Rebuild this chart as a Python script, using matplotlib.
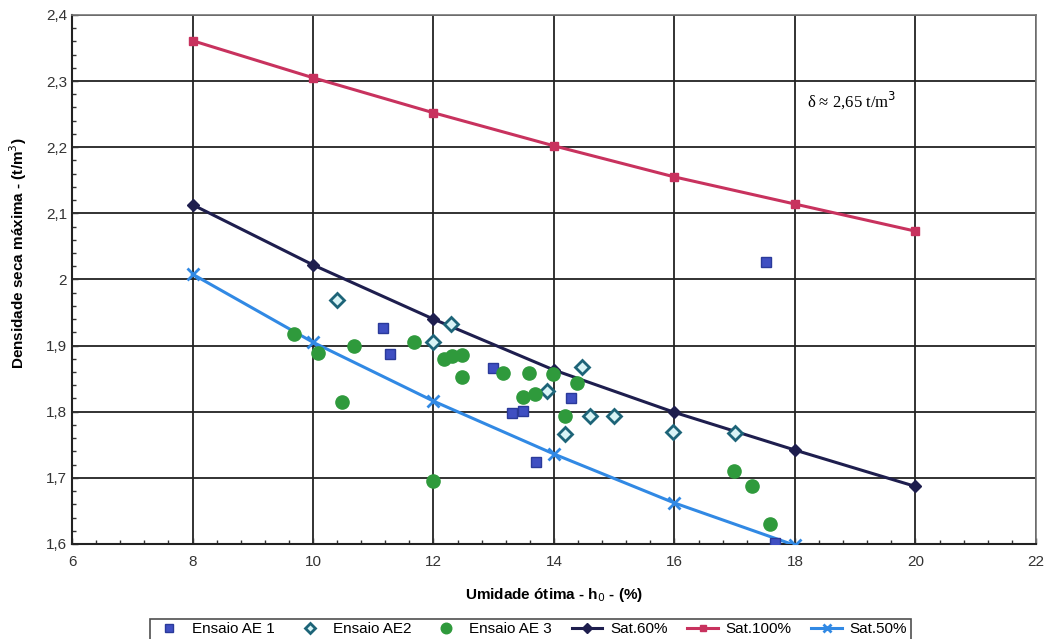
import matplotlib.pyplot as plt
from matplotlib.ticker import MultipleLocator, FuncFormatter

plt.rcParams['font.family'] = ['Liberation Sans', 'DejaVu Sans']

# curvas de saturação
sat_h = [8, 10, 12, 14, 16, 18, 20]
sat100 = [2.361, 2.305, 2.252, 2.202, 2.155, 2.114, 2.073]
sat60 = [2.113, 2.022, 1.940, 1.863, 1.799, 1.742, 1.687]
sat50 = [2.008, 1.905, 1.816, 1.736, 1.662, 1.598, 1.545]

# ensaios
ae1_h = [17.52, 11.17, 11.27, 12.98, 13.30, 13.48, 14.29, 13.70, 17.67]
ae1_d = [2.026, 1.926, 1.887, 1.866, 1.798, 1.801, 1.821, 1.724, 1.601]

ae2_h = [10.4, 12.29, 11.99, 14.47, 13.89, 14.59, 14.99, 14.19, 15.98, 17.0]
ae2_d = [1.969, 1.933, 1.905, 1.867, 1.831, 1.793, 1.793, 1.766, 1.769, 1.768]

ae3_h = [9.68, 10.08, 10.68, 10.48, 11.67, 12.17, 12.30, 12.48, 12.48, 13.16,
         13.58, 13.99, 14.39, 13.48, 13.68, 14.19, 11.99, 16.98, 17.28, 17.58]
ae3_d = [1.917, 1.889, 1.899, 1.815, 1.905, 1.880, 1.884, 1.886, 1.852, 1.858,
         1.858, 1.857, 1.843, 1.822, 1.827, 1.793, 1.695, 1.710, 1.687, 1.630]

fig = plt.figure(figsize=(10.5, 6.39), dpi=100)
ax = fig.add_axes([0.0686, 0.1487, 0.918, 0.828])

ax.plot(ae1_h, ae1_d, ls='none', marker='s', ms=6.5, color='#3f4fc2', mec='#2a3a9a',
        label='Ensaio AE 1', zorder=4)
ax.plot(ae2_h, ae2_d, ls='none', marker='D', ms=7, mfc='#d8f4f6', mec='#1d6478', mew=2,
        label='Ensaio AE2', zorder=4)
ax.plot(ae3_h, ae3_d, ls='none', marker='o', ms=9.5, color='#2f9a3c', label='Ensaio AE 3', zorder=4)
ax.plot(sat_h, sat60, color='#1e1e4e', lw=2.2, marker='D', ms=6, label='Sat.60%', zorder=3)
ax.plot(sat_h, sat100, color='#c8325e', lw=2.2, marker='s', ms=6, label='Sat.100%', zorder=3)
ax.plot(sat_h, sat50, color='#3189e4', lw=2.2, marker='x', ms=8, mew=2, label='Sat.50%', zorder=3)

ax.set_xlim(6, 22)
ax.set_ylim(1.6, 2.4)
ax.xaxis.set_major_locator(MultipleLocator(2))
ax.xaxis.set_minor_locator(MultipleLocator(0.4))
ax.yaxis.set_major_locator(MultipleLocator(0.1))
ax.yaxis.set_minor_locator(MultipleLocator(0.02))
ax.yaxis.set_major_formatter(FuncFormatter(lambda v, p: f'{v:.1f}'.rstrip('0').rstrip('.').replace('.', ',')))
ax.xaxis.set_major_formatter(FuncFormatter(lambda v, p: f'{v:.0f}'))
ax.tick_params(which='both', direction='in', length=4, width=1, labelsize=11, colors='#333333')
ax.tick_params(which='minor', length=3)
ax.tick_params(axis='x', pad=8)
ax.grid(True, which='major', color='#222222', lw=1.3)

for s in ['left', 'bottom']:
    ax.spines[s].set_color('#222222')
    ax.spines[s].set_linewidth(1.5)
for s in ['top', 'right']:
    ax.spines[s].set_color('#777777')
    ax.spines[s].set_linewidth(1.2)

ax.set_xlabel('Umidade ótima - h$_0$ - (%)', fontsize=11, fontweight='bold', labelpad=12)
ax.set_ylabel('Densidade seca máxima - (t/m$^3$)', fontsize=11, fontweight='bold')
ax.yaxis.label.set_va('center')
ax.yaxis.set_label_coords(-0.056, 0.55)

ax.text(18.2, 2.271, 'δ ≈ 2,65 t/m$^3$', fontsize=12, family='Liberation Serif', va='center')

leg = fig.legend(loc='center', bbox_to_anchor=(0.505, 0.015), ncol=6, frameon=True,
                 fontsize=11, handlelength=2.0, handletextpad=0.5, columnspacing=1.3,
                 borderpad=0.25, fancybox=False, edgecolor='#222222', markerscale=0.8)
leg.get_frame().set_linewidth(1.2)

fig.savefig('out.png', dpi=100, facecolor='white')
